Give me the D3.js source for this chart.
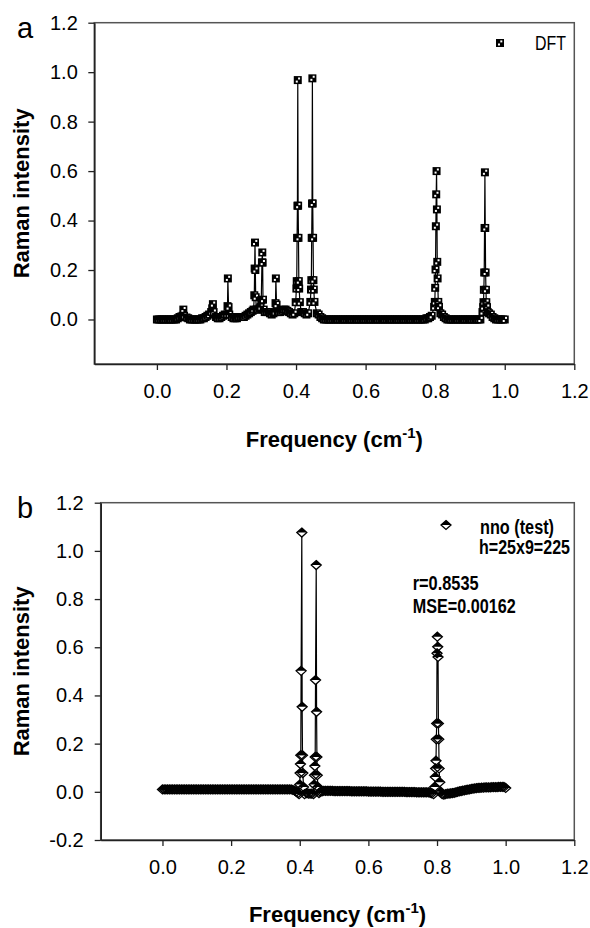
<!DOCTYPE html>
<html>
<head>
<meta charset="utf-8">
<script src="https://cdnjs.cloudflare.com/ajax/libs/d3/7.8.5/d3.min.js"></script>
<style>
  body { margin: 0; background: #fff; }
  svg { display: block; }
  text { font-family: "Liberation Sans", Arial, sans-serif; fill: #000; }
</style>
</head>
<body>
<div id="chart"></div>
<script>
//Frequency grid of the spectra (cm-1), one row per 0.1
var freqGrid = [
  0.000,0.005,0.010,0.015,0.020,0.025,0.030,0.035,0.040,0.045,0.050,0.055,0.060,0.065,0.070,0.075,0.080,0.085,0.090,0.095,
  0.100,0.105,0.110,0.115,0.120,0.125,0.130,0.135,0.140,0.145,0.150,0.155,0.160,0.165,0.170,0.175,0.180,0.185,0.190,0.195,
  0.200,0.205,0.210,0.215,0.220,0.225,0.230,0.235,0.240,0.245,0.250,0.255,0.260,0.265,0.270,0.275,0.280,0.285,0.290,0.295,
  0.300,0.305,0.310,0.315,0.320,0.325,0.330,0.335,0.340,0.345,0.350,0.355,0.360,0.365,0.370,0.375,0.380,0.385,0.390,0.395,
  0.400,0.405,0.410,0.415,0.420,0.425,0.430,0.435,0.440,0.445,0.450,0.455,0.460,0.465,0.470,0.475,0.480,0.485,0.490,0.495,
  0.500,0.505,0.510,0.515,0.520,0.525,0.530,0.535,0.540,0.545,0.550,0.555,0.560,0.565,0.570,0.575,0.580,0.585,0.590,0.595,
  0.600,0.605,0.610,0.615,0.620,0.625,0.630,0.635,0.640,0.645,0.650,0.655,0.660,0.665,0.670,0.675,0.680,0.685,0.690,0.695,
  0.700,0.705,0.710,0.715,0.720,0.725,0.730,0.735,0.740,0.745,0.750,0.755,0.760,0.765,0.770,0.775,0.780,0.785,0.790,0.795,
  0.800,0.805,0.810,0.815,0.820,0.825,0.830,0.835,0.840,0.845,0.850,0.855,0.860,0.865,0.870,0.875,0.880,0.885,0.890,0.895,
  0.900,0.905,0.910,0.915,0.920,0.925,0.930,0.935,0.940,0.945,0.950,0.955,0.960,0.965,0.970,0.975,0.980,0.985,0.990,0.995,
  1.000
];

//DFT baseline intensity on the grid
var dftBase = [
  0,0,0,0,0,0,0,0,0,0,0,0,0.005,0.01,0.012,0.015,0.01,0.008,0.005,0,
  0,0,0,0,0,0,0.005,0.005,0.01,0.015,0.02,0.025,0.025,0.02,0.01,0.005,0.005,0.01,0.015,0.02,
  0.03,0.025,0.02,0.01,0.005,0.005,0.005,0.01,0.01,0.01,0.01,0.015,0.02,0.025,0.03,0.035,0.04,0.045,0.04,0.045,
  0.05,0.04,0.03,0.03,0.03,0.025,0.02,0.025,0.03,0.035,0.03,0.03,0.035,0.04,0.04,0.035,0.03,0.025,0.02,0.025,
  0.03,0.03,0.03,0.03,0.03,0.025,0.02,0.025,0.03,0.035,0.03,0.03,0.025,0.02,0.01,0.005,0,0,0,0,
  0,0,0,0,0,0,0,0,0,0,0,0,0,0,0,0,0,0,0,0,
  0,0,0,0,0,0,0,0,0,0,0,0,0,0,0,0,0,0,0,0,
  0,0,0,0,0,0,0,0,0,0,0,0,0,0,0,0.005,0.005,0.01,0.015,0.02,
  0.03,0.03,0.03,0.025,0.02,0.01,0.005,0,0,0,0,0,0,0,0,0,0,0,0,0,
  0,0,0,0,0,0,0,0.005,0.01,0.015,0.02,0.025,0.02,0.01,0.005,0,0,0,0,0,
  0
];

//DFT peak points [frequency, intensity]
var dftPeaks = [
  [0.074,0.015],[0.076,0.04],[0.078,0.015],
  [0.156,0.03],[0.159,0.045],[0.161,0.062],[0.163,0.03],
  [0.201,0.02],[0.203,0.054],[0.204,0.166],[0.206,0.05],[0.208,0.02],
  [0.278,0.04],[0.280,0.098],[0.281,0.206],[0.282,0.311],[0.283,0.2],[0.284,0.09],[0.286,0.04],
  [0.298,0.05],[0.300,0.078],[0.302,0.231],[0.303,0.271],[0.304,0.23],[0.305,0.08],[0.307,0.04],
  [0.339,0.03],[0.341,0.066],[0.342,0.166],[0.344,0.06],[0.347,0.03],
  [0.399,0.07],[0.401,0.125],[0.402,0.155],[0.403,0.33],[0.404,0.46],[0.405,0.968],[0.406,0.46],[0.407,0.33],[0.408,0.155],[0.409,0.125],[0.411,0.07],
  [0.441,0.071],[0.443,0.121],[0.444,0.159],[0.445,0.33],[0.446,0.469],[0.447,0.975],[0.448,0.469],[0.449,0.33],[0.450,0.159],[0.451,0.121],[0.453,0.071],
  [0.797,0.051],[0.799,0.071],[0.800,0.128],[0.801,0.202],[0.802,0.377],[0.803,0.506],[0.804,0.6],[0.805,0.445],[0.806,0.233],[0.807,0.166],[0.809,0.071],[0.811,0.051],
  [0.936,0.03],[0.938,0.05],[0.939,0.07],[0.940,0.12],[0.941,0.19],[0.942,0.37],[0.943,0.595],[0.944,0.37],[0.945,0.19],[0.946,0.12],[0.947,0.07],[0.949,0.05],[0.951,0.03]
];

//nno (test) baseline intensity on the grid
var nnoBase = [
  0.01,0.01,0.01,0.01,0.01,0.01,0.01,0.01,0.01,0.01,0.01,0.01,0.01,0.01,0.01,0.01,0.01,0.01,0.01,0.01,
  0.01,0.01,0.01,0.01,0.01,0.01,0.01,0.01,0.01,0.01,0.01,0.01,0.01,0.01,0.01,0.01,0.01,0.01,0.01,0.01,
  0.01,0.01,0.01,0.01,0.01,0.01,0.01,0.01,0.01,0.01,0.01,0.01,0.01,0.01,0.01,0.01,0.01,0.01,0.01,0.01,
  0.01,0.01,0.01,0.01,0.01,0.01,0.01,0.01,0.01,0.01,0.01,0.01,0.01,0.01,0.01,0.01,0.008,0.005,0,-0.005,
  0,0,0,0,-0.005,-0.008,-0.008,-0.008,-0.005,0,0,0,0,0.002,0.004,0.004,0.004,0.004,0.004,0.004,
  0.003,0.003,0.003,0.003,0.003,0.003,0.003,0.003,0.003,0.003,0.002,0.002,0.002,0.002,0.002,0.002,0.002,0.002,0.002,0.002,
  0.001,0.001,0.001,0.001,0.001,0.001,0.001,0.001,0,0,0,0,0,0,0,0,0,0,0,0,
  0,0,-0.001,-0.001,-0.001,-0.001,-0.001,-0.001,-0.002,-0.002,-0.002,-0.002,-0.002,-0.002,-0.002,-0.002,-0.004,-0.006,-0.008,-0.01,
  0,0,0,0,-0.012,-0.01,-0.008,-0.007,-0.006,-0.005,-0.004,-0.002,0,0.002,0.003,0.005,0.006,0.008,0.009,0.01,
  0.012,0.013,0.014,0.015,0.016,0.016,0.017,0.017,0.018,0.018,0.018,0.018,0.019,0.019,0.019,0.019,0.02,0.02,0.02,0.02,
  0.016
];

//nno (test) peak points [frequency, intensity]
var nnoPeaks = [
  [0.398,-0.01],[0.400,0.03],[0.401,0.078],[0.402,0.115],[0.403,0.152],[0.404,0.502],[0.406,1.076],[0.407,0.353],[0.408,0.152],[0.409,0.078],[0.411,0.02],[0.414,-0.01],
  [0.440,-0.01],[0.442,0.03],[0.443,0.069],[0.444,0.107],[0.445,0.145],[0.446,0.464],[0.448,0.941],[0.449,0.332],[0.450,0.145],[0.451,0.069],[0.453,0.02],[0.456,-0.005],
  [0.790,-0.01],[0.793,0.02],[0.795,0.062],[0.796,0.097],[0.797,0.129],[0.798,0.218],[0.799,0.284],[0.800,0.575],[0.801,0.644],[0.802,0.602],[0.803,0.56],[0.804,0.284],[0.805,0.218],[0.806,0.097],[0.808,0.04],[0.811,0.0],[0.815,-0.01]
];

//Tick values
var xTicks = [0, 0.2, 0.4, 0.6, 0.8, 1.0, 1.2];
var yTicksA = [0, 0.2, 0.4, 0.6, 0.8, 1.0, 1.2];
var yTicksB = [-0.2, 0, 0.2, 0.4, 0.6, 0.8, 1.0, 1.2];

var svg = d3.select("#chart").append("svg")
    .attr("width", 590)
    .attr("height", 928);

//Merge grid baseline with peak points, dropping grid points under a peak
function buildSeries(base, peaks){
  var pts = [];
  freqGrid.forEach(function(f, i){
    var nearPeak = peaks.some(function(p){ return Math.abs(p[0] - f) < 0.003; });
    if(!nearPeak) pts.push([f, base[i]]);
  });
  pts = pts.concat(peaks);
  pts.sort(function(a, b){ return a[0] - b[0]; });
  return pts;
}

//Square marker with white specks (DFT), drawn in one pass
var squareMarker = [function(g){
  g.append("rect").attr("x", -4).attr("y", -4).attr("width", 8).attr("height", 8).attr("fill", "#000");
  g.append("rect").attr("x", 0.3).attr("y", -2.6).attr("width", 2).attr("height", 2).attr("fill", "#fff");
  g.append("rect").attr("x", -2).attr("y", 0.5).attr("width", 2).attr("height", 2).attr("fill", "#fff");
}];

//Half filled diamond marker (nno): white bodies first, then black halves and outlines
var diamondMarker = [function(g){
  g.append("path").attr("d", "M0,-4.5L5,0L0,4.5L-5,0Z").attr("fill", "#fff");
}, function(g){
  g.append("path").attr("d", "M0,-4.5L5,0L-5,0Z").attr("fill", "#000");
  g.append("path").attr("d", "M0,-4.5L5,0L0,4.5L-5,0Z").attr("fill", "none").attr("stroke", "#000").attr("stroke-width", 1.3);
}];

function drawPanel(p){
  var x = d3.scaleLinear().domain(p.xDomain).range([p.left, p.right]);
  var y = d3.scaleLinear().domain(p.yDomain).range([p.bottom, p.top]);
  var g = svg.append("g");

  //Frame
  g.append("rect")
    .attr("x", p.left).attr("y", p.top)
    .attr("width", p.right - p.left).attr("height", p.bottom - p.top)
    .attr("fill", "none").attr("stroke", "#555").attr("stroke-width", 1.5);

  //Axes
  var xAxis = d3.axisBottom(x).tickValues(xTicks).tickSizeInner(6).tickSizeOuter(0)
      .tickPadding(14).tickFormat(function(d){ return d.toFixed(1); });
  var yAxis = d3.axisLeft(y).tickValues(p.yTicks).tickSizeInner(6).tickSizeOuter(0)
      .tickPadding(p.yPad).tickFormat(function(d){ return d.toFixed(1); });

  var gx = g.append("g").attr("transform", "translate(0," + p.bottom + ")").call(xAxis);
  var gy = g.append("g").attr("transform", "translate(" + p.left + ",0)").call(yAxis);
  [gx, gy].forEach(function(a){
    a.select(".domain").attr("stroke", "#222").attr("stroke-width", 1.6);
    a.selectAll(".tick line").attr("stroke", "#222").attr("stroke-width", 1.3);
    a.selectAll(".tick text").attr("font-size", 20).attr("font-family", "Liberation Sans, Arial, sans-serif").attr("fill", "#111");
  });

  //Spectrum line and markers
  var pts = buildSeries(p.base, p.peaks);
  var line = d3.line().x(function(d){ return x(d[0]); }).y(function(d){ return y(d[1]); });
  g.append("path").datum(pts).attr("d", line)
    .attr("fill", "none").attr("stroke", "#000").attr("stroke-width", 1.2);

  p.marker.forEach(function(draw, layer){
    g.append("g").selectAll("g.pt" + layer).data(pts).enter().append("g")
      .attr("class", "pt" + layer)
      .attr("transform", function(d){ return "translate(" + x(d[0]) + "," + y(d[1]) + ")"; })
      .each(function(){ draw(d3.select(this)); });
  });

  //Axis titles
  var cx = (p.left + p.right) / 2;
  var xt = g.append("text").attr("x", cx).attr("y", p.xTitleY)
    .attr("text-anchor", "middle").attr("font-size", 22).attr("font-weight", "bold");
  xt.append("tspan").text("Frequency (cm");
  xt.append("tspan").attr("dy", -9).attr("font-size", 15).text("-1");
  xt.append("tspan").attr("dy", 9).text(")");

  g.append("text")
    .attr("transform", "translate(29," + ((p.top + p.bottom) / 2) + ") rotate(-90)")
    .attr("text-anchor", "middle").attr("font-size", 22).attr("font-weight", "bold")
    .text("Raman intensity");

  //Panel letter
  g.append("text").attr("x", 17).attr("y", p.top + 15)
    .attr("font-size", 29).text(p.letter);

  //Legend marker
  var leg = g.append("g").attr("transform", "translate(" + p.legX + "," + p.legY + ")");
  p.marker.forEach(function(draw){ draw(leg); });

  //Legend and annotation texts, squeezed to the narrow face of the original
  p.notes.forEach(function(n){
    g.append("text").attr("x", n[0]).attr("y", n[1])
      .attr("dominant-baseline", "central")
      .attr("font-size", 20).attr("font-weight", p.noteWeight)
      .attr("textLength", n[3]).attr("lengthAdjust", "spacingAndGlyphs")
      .text(n[2]);
  });
}

drawPanel({
  letter: "a",
  left: 94.3, right: 574.3, top: 22.7, bottom: 364,
  xDomain: [-0.18, 1.2], yDomain: [-0.18, 1.2],
  yTicks: yTicksA, yPad: 10.5,
  base: dftBase, peaks: dftPeaks, marker: squareMarker,
  xTitleY: 447,
  legX: 500, legY: 43,
  noteWeight: "normal",
  notes: [[535, 43, "DFT", 31]]
});

drawPanel({
  letter: "b",
  left: 100.7, right: 574.3, top: 502.7, bottom: 840,
  xDomain: [-0.18, 1.2], yDomain: [-0.2, 1.2],
  yTicks: yTicksB, yPad: 11,
  base: nnoBase, peaks: nnoPeaks, marker: diamondMarker,
  xTitleY: 922,
  legX: 446, legY: 525,
  noteWeight: "bold",
  notes: [[480, 527, "nno (test)", 74], [479, 547, "h=25x9=225", 91], [412.7, 583, "r=0.8535", 66], [412.7, 606, "MSE=0.00162", 103]]
});
</script>
</body>
</html>
